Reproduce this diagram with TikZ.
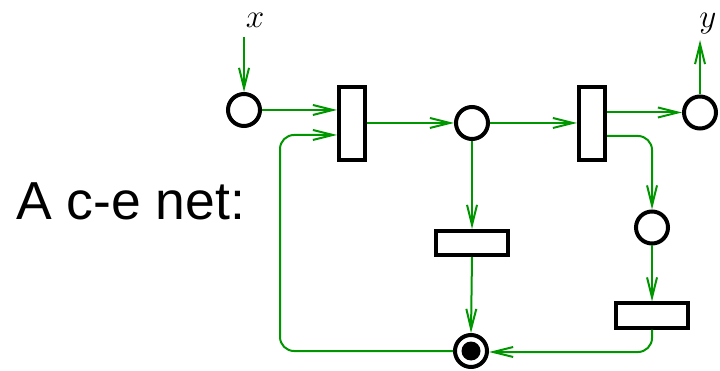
\documentclass[tikz,border=0pt]{standalone}
\usepackage{fontspec}
\setmainfont{Liberation Sans}
\usetikzlibrary{arrows.meta}
\definecolor{arcgreen}{RGB}{0,150,0}
\begin{document}
\begin{tikzpicture}[x=1pt,y=-1pt,
  place/.style={circle,draw=black,line width=4pt,fill=white,minimum size=32pt,inner sep=0pt},
  vtrans/.style={rectangle,draw=black,line width=4pt,fill=white,minimum width=26pt,minimum height=73pt,inner sep=0pt},
  htrans/.style={rectangle,draw=black,line width=4pt,fill=white,minimum width=72pt,minimum height=24pt,inner sep=0pt},
  arc/.style={draw=arcgreen,line width=2pt,-{Straight Barb[length=20pt,width=10pt]}},
  lab/.style={font=\fontsize{20.74}{24}\selectfont,scale=1.6,anchor=base,inner sep=0pt}]
  \useasboundingbox (0,0) rectangle (720,371);

  % label
  \node[anchor=base west,inner sep=0pt,font=\fontsize{53.5}{58}\selectfont] (title) at (16,220) {A c-e net:};

  % places and transitions
  \node[place] (p1) at (244,110) {};
  \node[vtrans] (t1) at (352,123.5) {};
  \node[place] (p2) at (472,123) {};
  \node[vtrans] (t2) at (592,123.5) {};
  \node[place] (p3) at (700,112.5) {};
  \node[place] (p5) at (652,227.5) {};
  \node[htrans] (t3) at (472,243) {};
  \node[htrans] (t4) at (652,315.5) {};
  \node[place] (p4) at (471,351) {};
  \fill (p4.center) circle[radius=9.5pt];

  % input and output
  \node[lab] (xl) at (255,28) {$x$};
  \node[lab] (yl) at (708,28) {$y$};
  \coordinate (xin) at (244,37);
  \coordinate (yout) at (700,40);

  % arcs (yshift is measured upwards)
  \draw[arc] (xin) -- (p1.north);
  \draw[arc] (p1.east) -- (p1.east -| t1.west);
  \draw[arc] ([yshift=0.5pt]t1.east) -- (p2.west);
  \draw[arc] (p2.east) -- (p2.east -| t2.west);
  \draw[arc] ([yshift=11pt]t2.east) -- (p3.west);
  \draw[arc] (p3.north) -- (yout);
  \draw[arc,rounded corners=14pt] ([yshift=-12.5pt]t2.east) -| (p5.north);
  \draw[arc] (p2.south) -- (t3.north);
  \draw[arc] (t3.south) -- (p4.north);
  \draw[arc] (p5.south) -- (t4.north);
  \draw[arc,rounded corners=14pt] (t4.south) |- ([yshift=-1pt]p4.east);
  \draw[arc,rounded corners=14pt] (p4.west) -| (280,135) -- ([yshift=-11.5pt]t1.west);
\end{tikzpicture}
\end{document}
